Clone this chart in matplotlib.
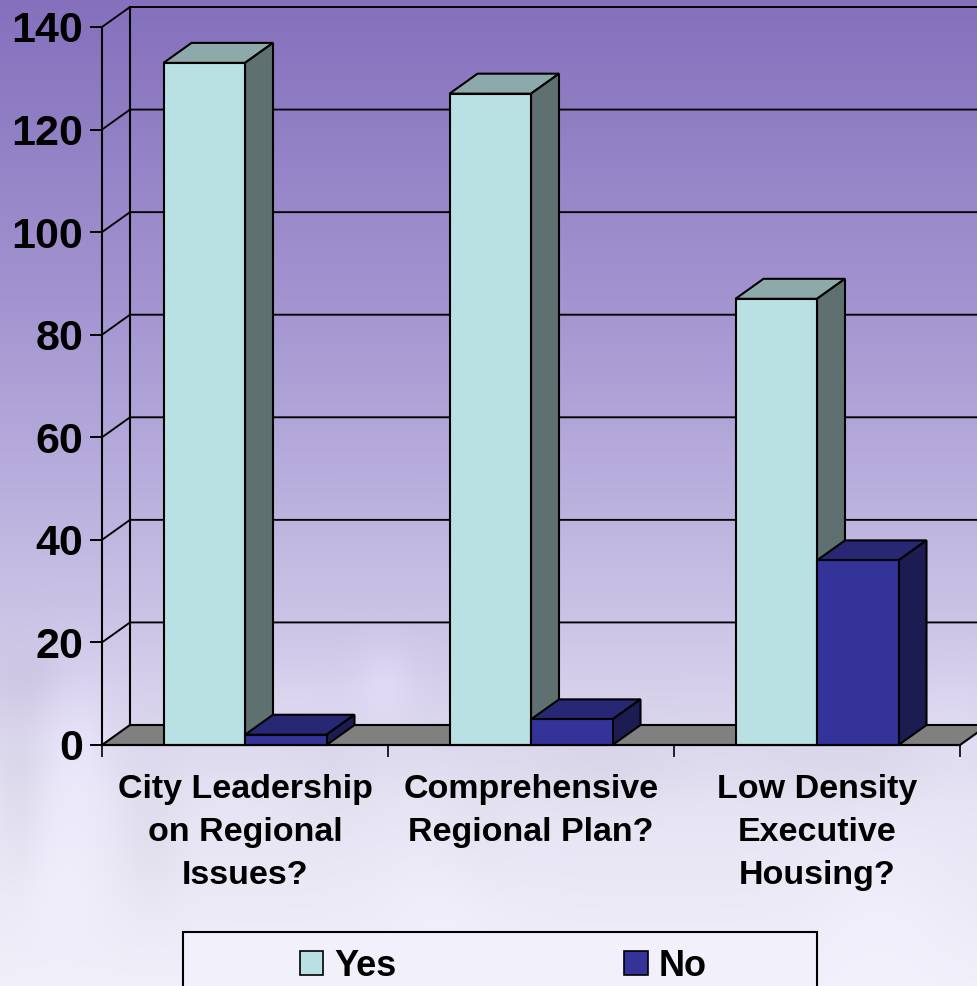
import numpy as np
import matplotlib
matplotlib.use("Agg")
import matplotlib.pyplot as plt
from matplotlib.patches import Polygon, Rectangle

plt.rcParams['font.family'] = ['Liberation Sans', 'DejaVu Sans']

categories = ["City Leadership\non Regional\nIssues?",
              "Comprehensive\nRegional Plan?",
              "Low Density\nExecutive\nHousing?"]
yes_values = [133, 127, 87]
no_values = [2, 5, 36]
y_ticks = [0, 20, 40, 60, 80, 100, 120, 140]
series_names = ["Yes", "No"]

W, H = 977, 986
fig = plt.figure(figsize=(W / 100, H / 100), dpi=100)

# background: vertical gradient with soft, pale crowd silhouettes
bg = fig.add_axes([0, 0, 1, 1], zorder=0)
bg.set_axis_off()
yy, xx = np.mgrid[0:H, 0:W]
stops_y = [0, 300, 500, 650, 800, 986]
stops = np.array([[0x84, 0x70, 0xBC], [0xA3, 0x94, 0xD0], [0xBB, 0xB1, 0xDE],
                  [0xD0, 0xC9, 0xE8], [0xE6, 0xE3, 0xF3], [0xF1, 0xEF, 0xFA]], float)
img = np.stack([np.interp(yy, stops_y, stops[:, i]) for i in range(3)], axis=-1)
blobs = [(75, 740, 25, 60, 10), (385, 680, 20, 28, 9), (60, 880, 35, 40, 5),
         (440, 900, 50, 40, 4), (880, 900, 50, 70, 4), (950, 720, 30, 40, 5),
         (20, 800, 16, 60, -7), (150, 830, 22, 55, -7), (330, 780, 30, 40, -4),
         (600, 770, 60, 30, -6), (840, 770, 70, 30, -5), (480, 820, 25, 50, -3),
         (30, 680, 30, 25, -6), (300, 700, 60, 25, 4)]
for cx, cy, sx, sy, a in blobs:
    g = a * np.exp(-((xx - cx) / sx) ** 2 / 2 - ((yy - cy) / sy) ** 2 / 2)
    img = img + g[..., None]
bg.imshow(np.clip(img, 0, 255).astype(np.uint8), extent=(0, W, H, 0), aspect='auto')

# axes: front plane of the 3D box
X0, X1, Y0, Y1 = 102, 960, 745, 27
ax = fig.add_axes([X0 / W, 1 - Y0 / H, (X1 - X0) / W, (Y0 - Y1) / H], zorder=1)
ax.patch.set_alpha(0)
ax.set_xlim(0, 3)
ax.set_ylim(0, 140)
LW = 1.5
for s in ['top', 'right']:
    ax.spines[s].set_visible(False)
for s in ['left', 'bottom']:
    ax.spines[s].set_linewidth(LW)
    ax.spines[s].set_zorder(20)
    ax.spines[s].set_capstyle('projecting')

dx = 28 / ((X1 - X0) / 3)                # depth, in category units
dy = 20 / ((Y0 - Y1) / 140)              # depth, in value units
kw = dict(edgecolor='black', linewidth=LW, clip_on=False, joinstyle='miter')

# floor
ax.add_patch(Polygon([(0, 0), (3, 0), (3 + dx, dy), (dx, dy)], facecolor='#808080', zorder=2, **kw))
# back wall and left wall lines
ax.plot([dx, dx], [dy, 140 + dy], color='black', lw=LW, clip_on=False, zorder=2)
for t in y_ticks[1:]:
    ax.plot([0, dx, 3 + dx], [t, t + dy, t + dy], color='black', lw=LW * 0.9,
            clip_on=False, zorder=2)


def bar3d(x, w, v, front, top, side, z):
    ax.add_patch(Polygon([(x, v), (x + w, v), (x + w + dx, v + dy), (x + dx, v + dy)],
                         facecolor=top, zorder=z, **kw))
    ax.add_patch(Polygon([(x + w, 0), (x + w + dx, dy), (x + w + dx, v + dy), (x + w, v)],
                         facecolor=side, zorder=z, **kw))
    ax.add_patch(Polygon([(x, 0), (x + w, 0), (x + w, v), (x, v)],
                         facecolor=front, zorder=z, **kw))


YES = ('#B9E0E2', '#8EA9AA', '#5E7070')
NO = ('#333399', '#272773', '#1C1C52')
bw = 81.5 / ((X1 - X0) / 3)
for i, (a, b) in enumerate(zip(yes_values, no_values)):
    bar3d(i + 0.5 - bw, bw, a, *YES, 3 + i * 2)
    bar3d(i + 0.5, bw, b, *NO, 4 + i * 2)

# ticks and labels
ax.set_yticks(y_ticks)
ax.set_xticks([0, 1, 2, 3])
ax.set_xticklabels([])
ax.set_xticks([0.5, 1.5, 2.5], minor=True)
ax.set_xticklabels(categories, minor=True, fontsize=24.5, fontweight='bold',
                   linespacing=1.49, color='black')
ax.tick_params(axis='x', which='minor', length=0, pad=21)
ax.tick_params(axis='x', which='major', length=8.5, width=1.2, direction='out')
ax.tick_params(axis='y', length=8.5, width=1.4, direction='out', pad=5)
for lab in ax.get_yticklabels():
    lab.set_fontsize(31)
    lab.set_fontweight('bold')
    lab.set_color('black')

# legend
frame = Rectangle((183 / W, 1 - 1010 / H), 634 / W, 78 / H, transform=fig.transFigure,
                  facecolor='#F2F0FA', edgecolor='black', linewidth=1.5, zorder=5)
fig.add_artist(frame)
handles = [Rectangle((0, 0), 1, 1, facecolor=YES[0], edgecolor='black', linewidth=1.2),
           Rectangle((0, 0), 1, 1, facecolor=NO[0], edgecolor='black', linewidth=1.2)]
leg = fig.legend(handles, series_names, ncol=2, frameon=False, loc='center left',
                 bbox_to_anchor=(300 / W, 1 - 966 / H), borderpad=0, borderaxespad=0,
                 handlelength=0.65, handleheight=0.65, handletextpad=0.3,
                 columnspacing=6.3, prop={'size': 26, 'weight': 'bold'})
leg.set_zorder(6)

fig.savefig('out.png', dpi=100)
